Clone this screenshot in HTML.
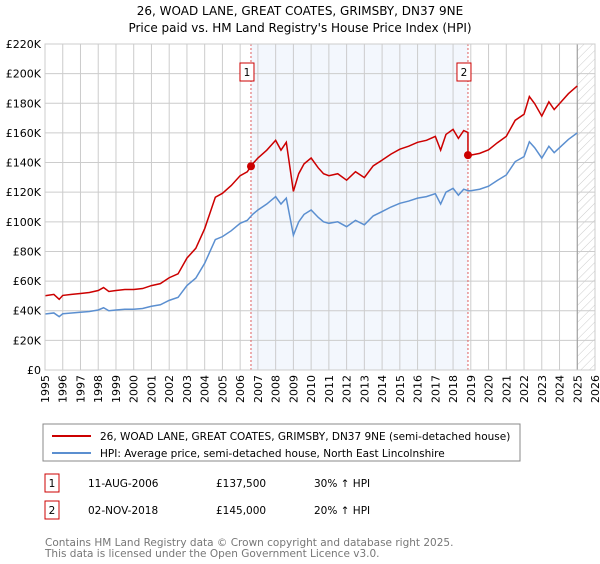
<!DOCTYPE html>
<html><head><meta charset="utf-8"><style>
body{margin:0;background:#fff;font-family:"DejaVu Sans","Liberation Sans",sans-serif;}
svg text{font-family:"DejaVu Sans","Liberation Sans",sans-serif;}
</style></head><body>
<svg id="chart" width="600" height="560" xmlns="http://www.w3.org/2000/svg">
<text x="300" y="15" font-size="12" text-anchor="middle">26, WOAD LANE, GREAT COATES, GRIMSBY, DN37 9NE</text>
<text x="300" y="32" font-size="12" text-anchor="middle">Price paid vs. HM Land Registry's House Price Index (HPI)</text>
<g id="plot"></g>
<g>
<rect x="43" y="424" width="477" height="37" fill="#fff" stroke="#888" stroke-width="1"/>
<line x1="52" y1="436" x2="91" y2="436" stroke="#cc0000" stroke-width="2"/>
<text x="100" y="440" font-size="10.5">26, WOAD LANE, GREAT COATES, GRIMSBY, DN37 9NE (semi-detached house)</text>
<line x1="52" y1="453" x2="91" y2="453" stroke="#5b8fd0" stroke-width="2"/>
<text x="100" y="457" font-size="10.5">HPI: Average price, semi-detached house, North East Lincolnshire</text>
</g>
<g font-size="10.5">
<rect x="45" y="474" width="14" height="18" fill="#fff" stroke="#cc0000"/>
<text x="52" y="487" text-anchor="middle">1</text>
<text x="88" y="487">11-AUG-2006</text><text x="216" y="487">£137,500</text><text x="314" y="487">30% ↑ HPI</text>
<rect x="45" y="501" width="14" height="18" fill="#fff" stroke="#cc0000"/>
<text x="52" y="514" text-anchor="middle">2</text>
<text x="88" y="514">02-NOV-2018</text><text x="216" y="514">£145,000</text><text x="314" y="514">20% ↑ HPI</text>
</g>
<text x="45" y="546" font-size="10.5" fill="#777">Contains HM Land Registry data © Crown copyright and database right 2025.</text>
<text x="45" y="557" font-size="10.5" fill="#777">This data is licensed under the Open Government Licence v3.0.</text>
</svg>
<script>
const hpiYears=[1995,1995.5,1995.8,1996,1996.5,1997,1997.5,1998,1998.3,1998.6,1999,1999.5,2000,2000.5,2001,2001.5,2002,2002.5,2003,2003.5,2004,2004.3,2004.6,2005,2005.5,2006,2006.4,2006.7,2007,2007.5,2007.8,2008,2008.3,2008.6,2009,2009.3,2009.6,2010,2010.4,2010.7,2011,2011.5,2012,2012.5,2013,2013.5,2014,2014.5,2015,2015.5,2016,2016.5,2017,2017.3,2017.6,2018,2018.3,2018.6,2018.84,2019,2019.5,2020,2020.5,2021,2021.5,2022,2022.3,2022.6,2023,2023.4,2023.7,2024,2024.5,2025];
const hpiValues=[37.8,38.5,36,38,38.5,39,39.5,40.5,42,40,40.5,41,41,41.5,43,44,47,49,57,62,72,80,88,90,94,99,101,105,108,112,115,117,112,116,91,100,105,108,103,100,99,100,96.7,101,98,104,106.9,110,112.5,114,116,117,119,112,120,122.6,118,122,121,121,122,124,128,131.6,140.6,144,154,150,143,151,146.7,150,155.6,160];
const saleYears=[2006.61,2018.84];
const salePrices=[137.5,145];
const saleLabels=["1","2"];
const yTicks=[0,20,40,60,80,100,120,140,160,180,200,220];
const xTicks=[1995,1996,1997,1998,1999,2000,2001,2002,2003,2004,2005,2006,2007,2008,2009,2010,2011,2012,2013,2014,2015,2016,2017,2018,2019,2020,2021,2022,2023,2024,2025,2026];
const X0=45,X1=595,Y0=370,Y1=44;
const xs=y=>X0+(y-1995)/(2026-1995)*(X1-X0);
const ys=v=>Y0-v/220*(Y0-Y1);
const NS="http://www.w3.org/2000/svg";
const plot=document.getElementById('plot');
function mk(tag,attrs){const e=document.createElementNS(NS,tag);for(const k in attrs)e.setAttribute(k,attrs[k]);plot.appendChild(e);return e;}
function hpiAt(t){for(let i=0;i<hpiYears.length-1;i++){if(t>=hpiYears[i]&&t<=hpiYears[i+1]){const f=(t-hpiYears[i])/(hpiYears[i+1]-hpiYears[i]);return hpiValues[i]+f*(hpiValues[i+1]-hpiValues[i]);}}return hpiValues[hpiValues.length-1];}
// shaded ownership span
let sh=mk('rect',{x:xs(saleYears[0]),y:Y1,width:xs(saleYears[1])-xs(saleYears[0]),height:Y0-Y1,fill:'#eef3fc',opacity:0.7});


// hatched future
const defs=mk('defs',{});
defs.innerHTML='<pattern id="hatch" width="6" height="6" patternUnits="userSpaceOnUse" patternTransform="rotate(45)"><line x1="0" y1="0" x2="0" y2="6" stroke="#ccc" stroke-width="1"/></pattern>';
let ht=mk('rect',{x:xs(2025),y:Y1,width:X1-xs(2025),height:Y0-Y1,fill:'url(#hatch)'});


xTicks.forEach(t=>{
 let l=mk('line',{x1:xs(t),x2:xs(t),y1:Y1,y2:Y0,stroke:'#ccc','stroke-width':1});
 
 
 let tx=mk('text',{x:0,y:0,'font-size':11,'text-anchor':'end',transform:`translate(${xs(t)+4},${Y0+5}) rotate(-90)`});
 tx.textContent=t;
 
 
});
yTicks.forEach(v=>{
 let l=mk('line',{x1:X0,x2:X1,y1:ys(v),y2:ys(v),stroke:'#ccc','stroke-width':1});
 
 
 let tx=mk('text',{x:X0-4,y:ys(v)+4,'font-size':11,'text-anchor':'end'});
 tx.textContent=v===0?'£0':'£'+v+'K';
 
 
});
let bd=mk('line',{x1:xs(2025),x2:xs(2025),y1:Y1,y2:Y0,stroke:'#999','stroke-width':1});


// sale marker lines
saleYears.forEach((s,i)=>{
 let l=mk('line',{x1:xs(s),x2:xs(s),y1:Y1,y2:Y0,stroke:'#e06060','stroke-width':1,'stroke-dasharray':'2,2'});
 
 
});
// HPI line
let hp=mk('polyline',{points:hpiYears.map((y,i)=>xs(y)+','+ys(hpiValues[i])).join(' '),fill:'none',stroke:'#5b8fd0','stroke-width':1.5});


// property line: HPI indexed from sale prices
const r0=salePrices[0]/hpiAt(saleYears[0]),r1=salePrices[1]/hpiAt(saleYears[1]);
const pts=[];
hpiYears.forEach((y,i)=>{
 if(y>saleYears[1]&&pts.length&&!pts.done){pts.push([saleYears[1],hpiAt(saleYears[1])*r0]);pts.push([saleYears[1],salePrices[1]]);pts.done=true;}
 pts.push([y,hpiValues[i]*(y<=saleYears[1]?r0:r1)]);
});
let pp=mk('polyline',{points:pts.map(p=>xs(p[0])+','+ys(p[1])).join(' '),fill:'none',stroke:'#cc0000','stroke-width':1.5});


saleYears.forEach((s,i)=>{
 let c=mk('circle',{cx:xs(s),cy:ys(salePrices[i]),r:4,fill:'#cc0000'});
 
 
 let b=mk('rect',{x:xs(s)-11,y:63,width:14,height:18,fill:'#fff',stroke:'#cc0000'});
 
 
 let t=mk('text',{x:xs(s)-4,y:76,'font-size':10.5,'text-anchor':'middle'});
 t.textContent=saleLabels[i];
 
 
});
let ax=mk('rect',{x:X0,y:Y1,width:X1-X0,height:Y0-Y1,fill:'none',stroke:'#ccc'});


</script>
</body></html>
